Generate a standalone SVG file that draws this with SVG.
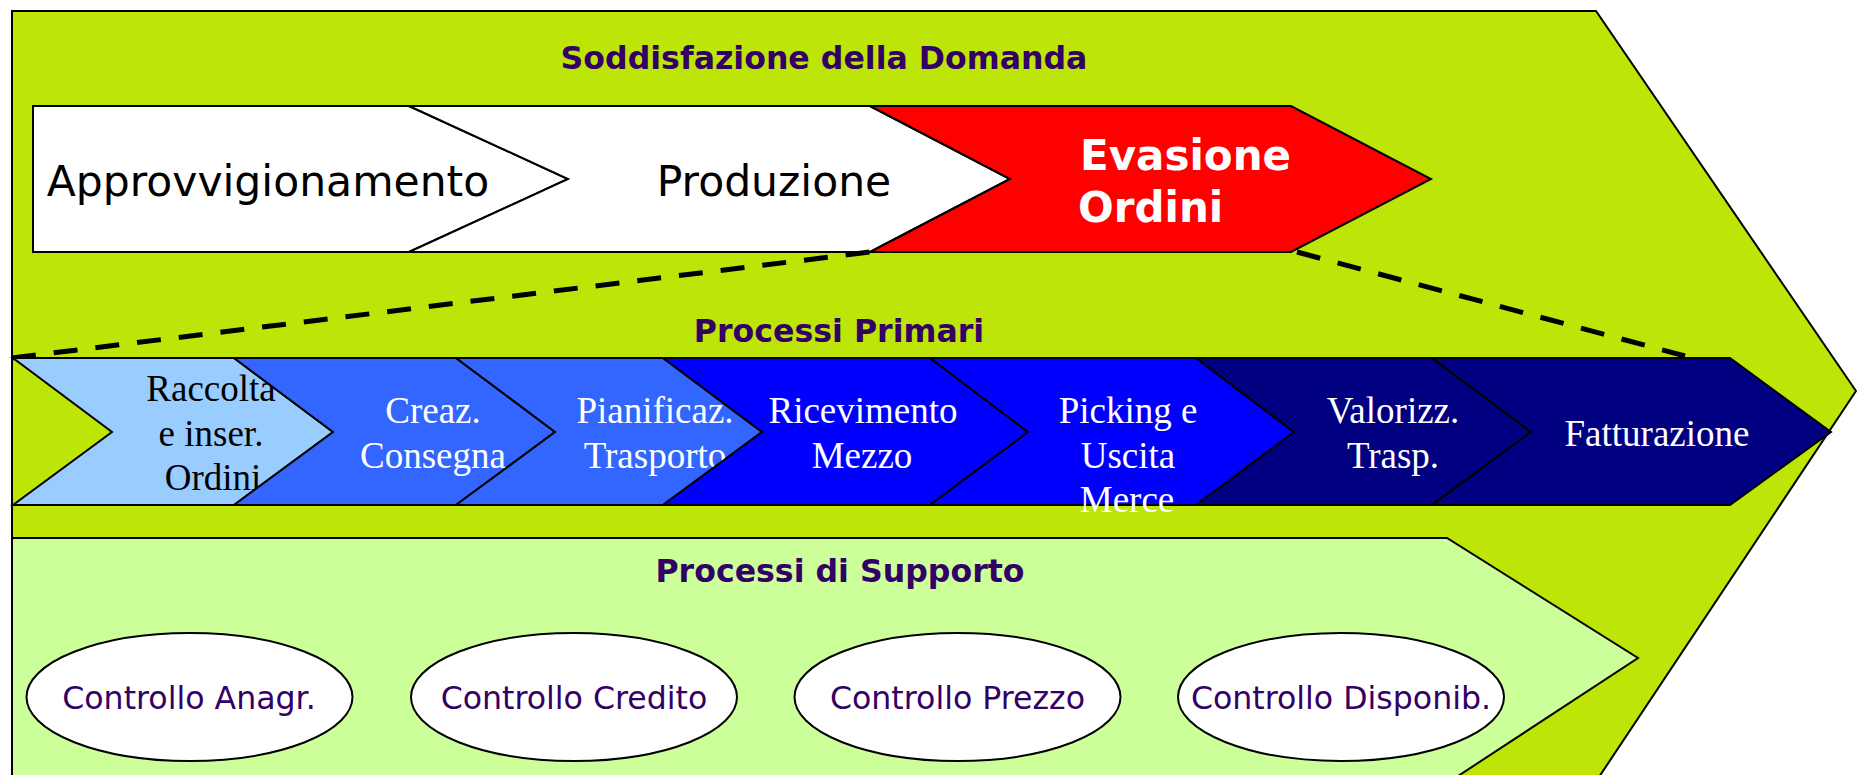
<svg xmlns="http://www.w3.org/2000/svg" width="1857" height="775" viewBox="0 0 1857 775">
<defs>
<style>
.title{font-family:"DejaVu Sans",Verdana,sans-serif;font-weight:bold;font-size:31.6px;fill:#330066;text-anchor:middle}
.top{font-family:"DejaVu Sans",Verdana,sans-serif;font-size:42.5px;fill:#000000;text-anchor:middle}
.topb{font-family:"DejaVu Sans",Verdana,sans-serif;font-weight:bold;font-size:42px;fill:#FFFFFF}
.prim{font-family:"Liberation Serif","Times New Roman",serif;font-size:37px;fill:#FFFFFF;text-anchor:middle}
.dark{fill:#000000}
.supp{font-family:"DejaVu Sans",Verdana,sans-serif;font-size:31.6px;fill:#330066;text-anchor:middle}
.sh{stroke:#000000;stroke-width:2;stroke-linejoin:miter}
.dash{fill:none;stroke:#000000;stroke-width:5;stroke-dasharray:24 18}
</style>
</defs>
<rect x="0" y="0" width="1857" height="775" fill="#FFFFFF"/>
<g id="domanda">
<polygon class="sh" points="12,11 1596,11 1856,391 1597,780 12,780" fill="#BDE508"/>
<text class="title" x="824" y="69">Soddisfazione della Domanda</text>
</g>
<g id="supporto">
<polygon class="sh" points="12,538 1447,538 1638,658 1452,780 12,780" fill="#CCFF99"/>
<text class="title" x="840" y="582">Processi di Supporto</text>
</g>
<g id="approvvigionamento">
<polygon class="sh" stroke-width="1.5" points="33,106 409,106 568,179 409,252 33,252" fill="#FFFFFF"/>
<text class="top" x="268" y="196">Approvvigionamento</text>
</g>
<g id="produzione">
<polygon class="sh" points="409,106 870,106 1010,179 870,252 409,252 568,179" fill="#FFFFFF"/>
<text class="top" x="774" y="196">Produzione</text>
</g>
<g id="evasione">
<polygon class="sh" points="870,106 1291,106 1431,179 1291,252 870,252 1010,179" fill="#FF0000"/>
<text class="topb" x="1080" y="170">Evasione</text>
<text class="topb" x="1078" y="222">Ordini</text>
</g>
<g id="connectors">
<line class="dash" x1="12" y1="358" x2="870" y2="252"/>
<line class="dash" x1="1297" y1="252" x2="1685" y2="356"/>
</g>
<text class="title" x="839" y="342">Processi Primari</text>
<g id="raccolta">
<polygon class="sh" points="13,358 234,358 333,432 234,505 13,505 112,432" fill="#99CCFF"/>
<text class="prim dark" x="211" y="401">Raccolta</text>
<text class="prim dark" x="211" y="446">e inser.</text>
<text class="prim dark" x="213" y="490">Ordini</text>
</g>
<g id="creaz">
<polygon class="sh" points="234,358 456,358 555,432 456,505 234,505 333,432" fill="#3366FF"/>
<text class="prim" x="433" y="423">Creaz.</text>
<text class="prim" x="433" y="468">Consegna</text>
</g>
<g id="pianificaz">
<polygon class="sh" points="456,358 663,358 762,432 663,505 456,505 555,432" fill="#3366FF"/>
<text class="prim" x="655" y="423">Pianificaz.</text>
<text class="prim" x="655" y="468">Trasporto</text>
</g>
<g id="ricevimento">
<polygon class="sh" points="663,358 930,358 1028,432 930,505 663,505 762,432" fill="#0000FF"/>
<text class="prim" x="863" y="423">Ricevimento</text>
<text class="prim" x="862" y="468">Mezzo</text>
</g>
<g id="picking">
<polygon class="sh" points="930,358 1196,358 1294,432 1196,505 930,505 1028,432" fill="#0000FF"/>
<text class="prim" x="1128" y="423">Picking e</text>
<text class="prim" x="1128" y="468">Uscita</text>
<text class="prim" x="1127" y="512">Merce</text>
</g>
<g id="valorizz">
<polygon class="sh" points="1196,358 1432,358 1531,432 1432,505 1196,505 1294,432" fill="#000080"/>
<text class="prim" x="1393" y="423">Valorizz.</text>
<text class="prim" x="1393" y="468">Trasp.</text>
</g>
<g id="fatturazione">
<polygon class="sh" points="1432,358 1730,358 1831,432 1730,505 1432,505 1531,432" fill="#000080"/>
<text class="prim" x="1657" y="446">Fatturazione</text>
</g>
<g id="ctrl-anagr">
<ellipse class="sh" cx="189.5" cy="697" rx="163" ry="64" fill="#FFFFFF"/>
<text class="supp" x="189" y="709">Controllo Anagr.</text>
</g>
<g id="ctrl-credito">
<ellipse class="sh" cx="574" cy="697" rx="163" ry="64" fill="#FFFFFF"/>
<text class="supp" x="574" y="709">Controllo Credito</text>
</g>
<g id="ctrl-prezzo">
<ellipse class="sh" cx="957.5" cy="697" rx="163" ry="64" fill="#FFFFFF"/>
<text class="supp" x="957.5" y="709">Controllo Prezzo</text>
</g>
<g id="ctrl-disponib">
<ellipse class="sh" cx="1341" cy="697" rx="163" ry="64" fill="#FFFFFF"/>
<text class="supp" x="1341" y="709">Controllo Disponib.</text>
</g>
</svg>
